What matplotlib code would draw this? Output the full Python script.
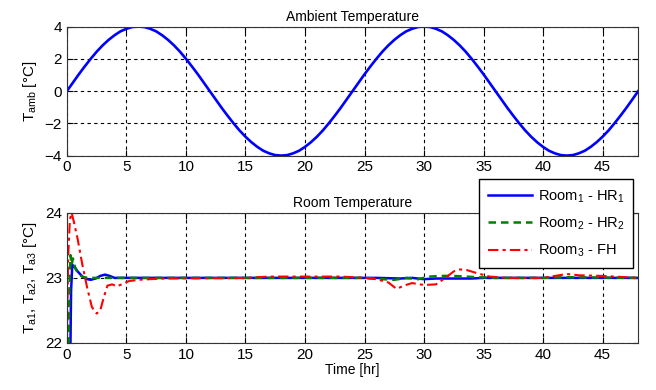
import numpy as np
import matplotlib
matplotlib.use("Agg")
import matplotlib.pyplot as plt

plt.rcParams['font.family'] = ['Liberation Sans', 'DejaVu Sans']
plt.rcParams['mathtext.fontset'] = 'custom'
plt.rcParams['mathtext.rm'] = 'Liberation Sans'
plt.rcParams['mathtext.it'] = 'Liberation Sans'

# ambient temperature, half-hourly readings
amb_t = [i * 0.5 for i in range(97)]
amb_v = [0.0, 0.52, 1.04, 1.53, 2.0, 2.44, 2.83, 3.17, 3.46, 3.70, 3.86, 3.97,
         4.0, 3.97, 3.86, 3.70, 3.46, 3.17, 2.83, 2.44, 2.0, 1.53, 1.04, 0.52,
         0.0, -0.52, -1.04, -1.53, -2.0, -2.44, -2.83, -3.17, -3.46, -3.70, -3.86, -3.97,
         -4.0, -3.97, -3.86, -3.70, -3.46, -3.17, -2.83, -2.44, -2.0, -1.53, -1.04, -0.52,
         0.0, 0.52, 1.04, 1.53, 2.0, 2.44, 2.83, 3.17, 3.46, 3.70, 3.86, 3.97,
         4.0, 3.97, 3.86, 3.70, 3.46, 3.17, 2.83, 2.44, 2.0, 1.53, 1.04, 0.52,
         0.0, -0.52, -1.04, -1.53, -2.0, -2.44, -2.83, -3.17, -3.46, -3.70, -3.86, -3.97,
         -4.0, -3.97, -3.86, -3.70, -3.46, -3.17, -2.83, -2.44, -2.0, -1.53, -1.04, -0.52,
         0.0]

# room temperatures
r1_t = [0, 0.3, 0.35, 0.45, 0.6, 0.9, 1.3, 1.7, 2.0, 2.4, 2.8, 3.2, 3.6, 4.0, 5,
        10, 20, 25, 26, 28, 29, 30, 31, 32, 33, 34, 35, 40, 48]
r1_v = [22.0, 22.0, 22.8, 23.2, 23.18, 23.1, 23.02, 22.98, 22.97, 22.99, 23.03, 23.05,
        23.03, 23.0, 23.0, 23.0, 23.0, 23.0, 23.0, 22.99, 23.0, 22.98, 22.99, 22.99,
        22.99, 22.99, 23.0, 23.0, 23.0]

r2_t = [0, 0.15, 0.22, 0.3, 0.4, 0.5, 0.7, 1.0, 1.4, 1.8, 3, 5, 25, 26.5, 27.5,
        28.5, 29.5, 30.5, 31.5, 32.5, 33.5, 34.5, 36, 40, 42, 48]
r2_v = [22.0, 22.0, 22.9, 23.35, 23.2, 23.3, 23.15, 23.05, 23.01, 23.0, 23.0, 23.0,
        23.0, 22.98, 22.97, 23.0, 22.98, 23.02, 23.03, 23.03, 23.02, 23.01, 23.0,
        23.0, 23.01, 23.0]

r3_t = [0, 0.1, 0.25, 0.4, 0.6, 0.9, 1.3, 1.7, 2.1, 2.5, 2.8, 3.1, 3.4, 3.8, 4.2,
        4.6, 5.2, 6, 8, 15, 17, 23, 25, 26, 27, 27.7, 28.3, 29, 30, 31, 31.8, 32.5,
        33, 33.6, 34.5, 35.5, 37, 40, 41, 42, 43, 45, 48]
r3_v = [22.0, 23.3, 23.9, 24.0, 23.85, 23.6, 23.2, 22.85, 22.55, 22.45, 22.5, 22.7,
        22.88, 22.9, 22.87, 22.9, 22.95, 22.97, 22.99, 23.0, 23.02, 23.02, 23.0, 22.98,
        22.93, 22.83, 22.88, 22.92, 22.89, 22.9, 23.0, 23.1, 23.13, 23.12, 23.07,
        23.02, 23.0, 23.0, 23.03, 23.06, 23.04, 23.03, 23.0]

labels = ['Room$_1$ - HR$_1$', 'Room$_2$ - HR$_2$', 'Room$_3$ - FH']

fig = plt.figure(figsize=(6.56, 3.9), dpi=100)
ax1 = fig.add_axes([0.102, 0.601, 0.871, 0.331])
ax2 = fig.add_axes([0.102, 0.121, 0.871, 0.333])

ax1.plot(amb_t, amb_v, color='blue', lw=1.9)
ax1.set_xlim(0, 48)
ax1.set_ylim(-4, 4)
ax1.set_yticks([-4, -2, 0, 2, 4])
ax1.set_title('Ambient Temperature', fontsize=10, pad=4)
ax1.set_ylabel('T$_{\\mathrm{amb}}$ [°C]', fontsize=11)

ax2.plot(r1_t, r1_v, color='blue', lw=1.8, ls='-', label=labels[0])
ax2.plot(r2_t, r2_v, color='green', lw=1.8, ls=(0, (3, 2)), label=labels[1])
ax2.plot(r3_t, r3_v, color='red', lw=1.5, ls=(0, (5, 2, 1.5, 2)), label=labels[2])
ax2.set_xlim(0, 48)
ax2.set_ylim(22, 24)
ax2.set_yticks([22, 23, 24])
ax2.set_title('Room Temperature', fontsize=10, pad=4)
ax2.set_ylabel('T$_{\\mathrm{a1}}$, T$_{\\mathrm{a2}}$, T$_{\\mathrm{a3}}$ [°C]', fontsize=11)
ax2.set_xlabel('Time [hr]', fontsize=10, labelpad=1)

for ax in (ax1, ax2):
    ax.set_xticks(range(0, 50, 5))
    ax.grid(True, color='black', ls=(0, (3, 3)), lw=0.8)
    ax.tick_params(direction='in', top=True, right=True, labelsize=11, length=4)
    for s in ax.spines.values():
        s.set_color('#333333')

leg = ax2.legend(loc='upper right', bbox_to_anchor=(0.965, 0.54),
                 bbox_transform=fig.transFigure, fontsize=10.5, fancybox=False,
                 framealpha=1, edgecolor='black', handlelength=3.0,
                 handletextpad=0.4, borderaxespad=0, labelspacing=0.75,
                 borderpad=0.6)
leg.get_frame().set_linewidth(1.0)

fig.savefig('out.png', dpi=100)
